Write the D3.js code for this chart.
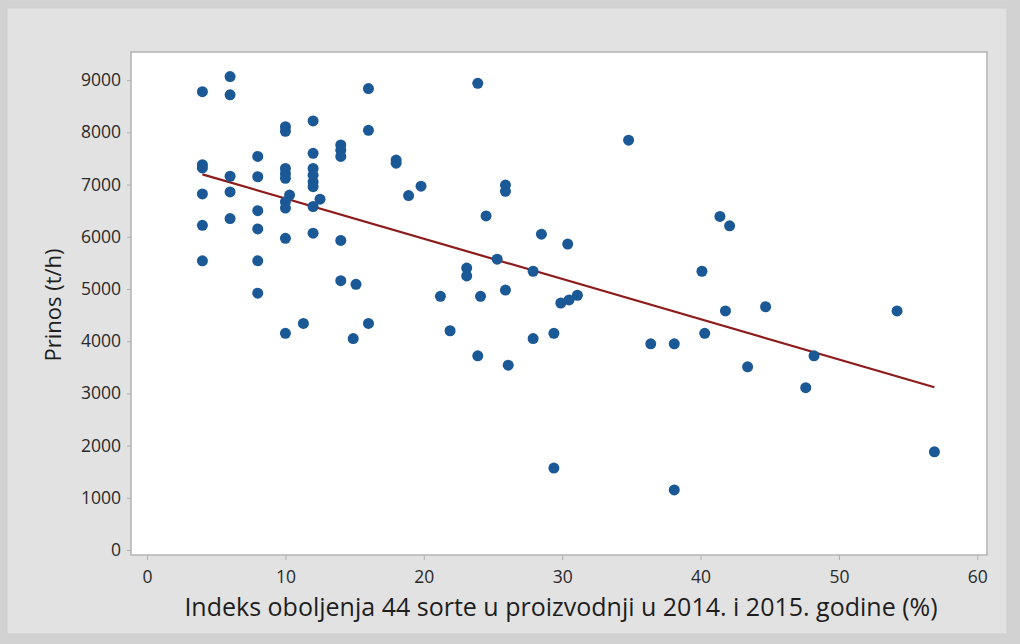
<!DOCTYPE html>
<html>
<head>
<meta charset="utf-8">
<script src="https://cdn.jsdelivr.net/npm/d3@7"></script>
<style>
  html, body { margin: 0; padding: 0; background: #d2d2d2; }
  svg { display: block; }
</style>
</head>
<body>
<div id="chart"></div>
<script>
// disease index (%) per variety/year
var indeks = [
  6, 4, 6, 16, 10, 10, 12, 16, 14, 14, 14, 12, 8, 18, 18, 4, 4, 6, 8, 10,
  10, 10, 12, 12, 12, 12, 19.8, 18.9, 4, 6, 10.3, 10, 10, 12.5, 12, 8, 6, 4,
  8, 10, 12, 14, 4, 8, 14, 15.1, 8, 11.3, 10, 16, 14.9, 23.9, 34.8, 25.9, 25.9,
  24.5, 41.4, 42.1, 28.5, 30.4, 25.3, 23.1, 23.1, 27.9, 40.1, 21.2, 24.1, 25.9,
  29.9, 30.5, 31.1, 21.9, 27.9, 29.4, 36.4, 38.1, 40.3, 23.9, 26.1, 29.4, 38.1,
  41.8, 44.7, 54.2, 48.2, 43.4, 47.6, 56.9
];
// yield
var prinos = [
  9070, 8780, 8720, 8840, 8110, 8020, 8220, 8040, 7760, 7660, 7540, 7600, 7540,
  7470, 7410, 7380, 7320, 7160, 7150, 7310, 7210, 7120, 7310, 7180, 7050, 6960,
  6970, 6790, 6820, 6860, 6800, 6670, 6550, 6720, 6580, 6500, 6350, 6220, 6150,
  5970, 6070, 5930, 5540, 5540, 5160, 5090, 4920, 4340, 4150, 4340, 4050, 8940,
  7850, 6990, 6870, 6400, 6390, 6210, 6050, 5860, 5570, 5400, 5250, 5340, 5340,
  4860, 4860, 4980, 4730, 4790, 4880, 4200, 4050, 4150, 3950, 3950, 4150, 3720,
  3540, 1570, 1150, 4580, 4660, 4580, 3720, 3510, 3110, 1880
];
// fitted line
var fitIntercept = 7505,
    fitSlope = -77.1;

var xTicks = [0, 10, 20, 30, 40, 50, 60];
var yTicks = [0, 1000, 2000, 3000, 4000, 5000, 6000, 7000, 8000, 9000];

var W = 1020, H = 644;
var plot = {left: 131, top: 52, right: 987, bottom: 555};

var svg = d3.select("#chart").append("svg")
    .attr("width", W)
    .attr("height", H);

// outer panel
svg.append("rect")
    .attr("x", 7).attr("y", 8)
    .attr("width", 1000).attr("height", 626)
    .attr("fill", "#e2e2e2")
    .attr("stroke", "#cdcdcd");

var x = d3.scaleLinear().domain([-1.16, 60.7]).range([plot.left, plot.right]),
    y = d3.scaleLinear().domain([-96, 9540]).range([plot.bottom, plot.top]);

svg.append("rect")
    .attr("x", plot.left).attr("y", plot.top)
    .attr("width", plot.right - plot.left)
    .attr("height", plot.bottom - plot.top)
    .attr("fill", "#fff")
    .attr("stroke", "#b4b4b4")
    .attr("stroke-width", 1.5);

var fnt = "'Open Sans', 'Noto Sans', sans-serif";

var xAxis = svg.append("g")
    .attr("transform", "translate(0," + plot.bottom + ")")
    .call(d3.axisBottom(x).tickValues(xTicks).tickSize(5).tickPadding(11));
var yAxis = svg.append("g")
    .attr("transform", "translate(" + plot.left + ",0)")
    .call(d3.axisLeft(y).tickValues(yTicks).tickFormat(d3.format("d")).tickSize(4).tickPadding(6));

[xAxis, yAxis].forEach(function(g) {
    g.select(".domain").remove();
    g.selectAll(".tick line").attr("stroke", "#b0b0b0");
    g.selectAll(".tick text")
        .attr("fill", "#2a2a2a")
        .style("font-family", fnt)
        .style("font-size", "17.5px");
});

// regression line
var x0 = d3.min(indeks), x1 = d3.max(indeks);
svg.append("line")
    .attr("x1", x(x0)).attr("y1", y(fitIntercept + fitSlope * x0))
    .attr("x2", x(x1)).attr("y2", y(fitIntercept + fitSlope * x1))
    .attr("stroke", "#8e1b1b")
    .attr("stroke-width", 2.2);

svg.append("g").selectAll("circle")
    .data(indeks.map(function(d, i) { return [d, prinos[i]]; }))
    .enter().append("circle")
    .attr("cx", function(d) { return x(d[0]); })
    .attr("cy", function(d) { return y(d[1]); })
    .attr("r", 5.5)
    .attr("fill", "#1a5896");

svg.append("text")
    .attr("x", 561)
    .attr("y", 616)
    .attr("text-anchor", "middle")
    .attr("fill", "#1e1e1e")
    .style("font-family", fnt)
    .style("font-size", "25px")
    .text("Indeks oboljenja 44 sorte u proizvodnji u 2014. i 2015. godine (%)");

svg.append("text")
    .attr("transform", "translate(61,305) rotate(-90)")
    .attr("text-anchor", "middle")
    .attr("fill", "#1e1e1e")
    .style("font-family", fnt)
    .style("font-size", "22px")
    .text("Prinos (t/h)");
</script>
</body>
</html>
